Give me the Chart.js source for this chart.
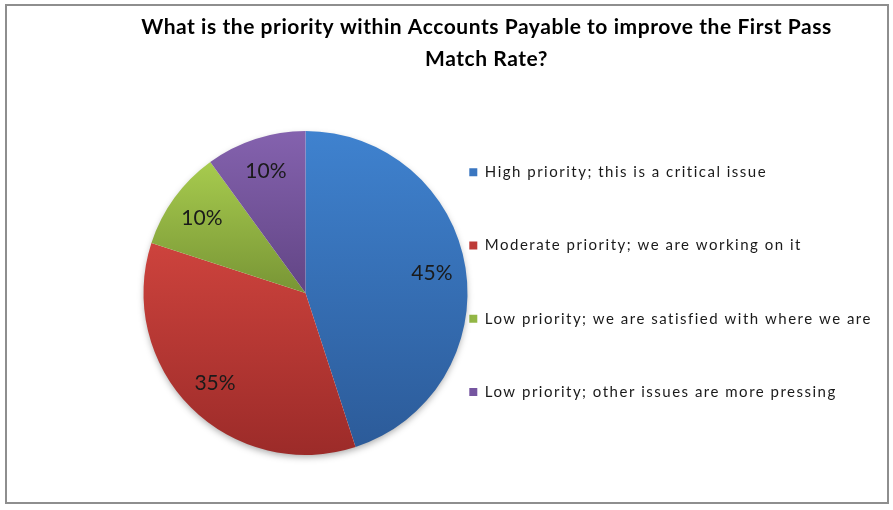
<!DOCTYPE html>
<html>
<head>
<meta charset="utf-8">
<script src="https://cdn.jsdelivr.net/npm/chart.js@4.4.0/dist/chart.umd.min.js"></script>
<style>
  html, body { margin: 0; padding: 0; background: #ffffff; }
  #wrap { position: relative; width: 893px; height: 510px; }
  #frame { position: absolute; left: 5px; top: 4px; width: 884px; height: 500px; border: 2px solid #8e8e8e; box-sizing: border-box; pointer-events: none; }
</style>
</head>
<body>
<div id="wrap"><canvas id="c"></canvas><div id="frame"></div></div>
<script>
const titleLines = ['What is the priority within Accounts Payable to improve the First Pass', 'Match Rate?'];
const categories = [
  'High priority; this is a critical issue',
  'Moderate priority; we are working on it',
  'Low priority; we are satisfied with where we are',
  'Low priority; other issues are more pressing'
];
const values = [45, 35, 10, 10];

const baseColors  = ['#3A76C0', '#BE3B37', '#93B746', '#7555A0'];
const lightColors = ['#3F82CF', '#CD433D', '#A7CB4E', '#8462AE'];
const darkColors  = ['#2C5B99', '#9C2B29', '#789535', '#624585'];

const LEGEND_WIDTH = 464.9;
const LEFT_GAP = 102.9;

function sliceGradient(ctx) {
  const chart = ctx.chart;
  const area = chart.chartArea;
  const i = ctx.dataIndex;
  if (!area || i === undefined) return baseColors[i] || baseColors[0];
  const meta = chart.getDatasetMeta(ctx.datasetIndex);
  const r = meta.controller.outerRadius || Math.min(area.width, area.height) / 2;
  const cy = (area.top + area.bottom) / 2;
  const data = ctx.dataset.data;
  const total = data.reduce((a, b) => a + b, 0);
  let before = 0;
  for (let k = 0; k < i; k++) before += data[k];
  const a0 = -Math.PI / 2 + before / total * 2 * Math.PI;
  const a1 = a0 + data[i] / total * 2 * Math.PI;
  const ys = [cy, cy + r * Math.sin(a0), cy + r * Math.sin(a1)];
  [-Math.PI / 2, Math.PI / 2, 3 * Math.PI / 2].forEach(t => { if (t >= a0 && t <= a1) ys.push(cy + r * Math.sin(t)); });
  const y0 = Math.min(...ys), y1 = Math.max(...ys);
  const g = chart.ctx.createLinearGradient(0, y0, 0, y1);
  g.addColorStop(0, lightColors[i]);
  g.addColorStop(1, darkColors[i]);
  return g;
}

// empty layout box on the left, so the pie sits left of the centred title
const leftGap = {
  id: 'leftGap',
  beforeInit(chart) {
    const box = {
      position: 'left', weight: 0, fullSize: false, options: {},
      left: 0, top: 0, right: 0, bottom: 0, width: 0, height: 0,
      isHorizontal() { return false; },
      getPadding() { return { top: 0, left: 0, right: 0, bottom: 0 }; },
      update(maxWidth, maxHeight) { this.width = LEFT_GAP; this.height = maxHeight; },
      draw() {}
    };
    Chart.layouts.addBox(chart, box);
  }
};

// looser letter spacing for legend and title text (as in the original rendering)
const textSpacing = {
  id: 'textSpacing',
  beforeInit(chart) {
    const withSpacing = (obj, name, px, after) => {
      const orig = obj[name];
      obj[name] = function (...args) {
        const c = this.ctx;
        const prev = c.letterSpacing;
        c.letterSpacing = px;
        try {
          const r = orig.apply(this, args);
          if (after) after.call(this);
          return r;
        } finally {
          c.letterSpacing = prev === undefined ? '0px' : prev;
        }
      };
    };
    if (chart.legend) {
      withSpacing(chart.legend, 'fit', '1.5px', function () { this.width = LEGEND_WIDTH; });
      withSpacing(chart.legend, 'draw', '1.5px');
    }
    if (chart.titleBlock) withSpacing(chart.titleBlock, 'draw', '0.55px');
  }
};

const pieShadow = {
  id: 'pieShadow',
  beforeDatasetsDraw(chart) {
    const arc = chart.getDatasetMeta(0).data[0];
    if (!arc) return;
    const { x, y, outerRadius } = arc.getProps(['x', 'y', 'outerRadius'], true);
    const c = chart.ctx;
    c.save();
    c.shadowColor = 'rgba(0,0,0,0.35)';
    c.shadowBlur = 7;
    c.shadowOffsetY = 3;
    c.fillStyle = '#ffffff';
    c.beginPath();
    c.arc(x, y, outerRadius - 1, 0, Math.PI * 2);
    c.fill();
    c.restore();
  }
};

const pctLabels = {
  id: 'pctLabels',
  afterDatasetsDraw(chart) {
    const meta = chart.getDatasetMeta(0);
    const data = chart.data.datasets[0].data;
    const total = data.reduce((a, b) => a + b, 0);
    const c = chart.ctx;
    c.save();
    c.font = '21px Lato';
    c.fillStyle = '#1a1a1a';
    c.textAlign = 'center';
    c.textBaseline = 'middle';
    meta.data.forEach((arc, i) => {
      const p = arc.getProps(['x', 'y', 'startAngle', 'endAngle', 'outerRadius'], true);
      const mid = (p.startAngle + p.endAngle) / 2;
      const d = p.outerRadius * 0.79;
      c.fillText(Math.round(data[i] / total * 100) + '%', p.x + Math.cos(mid) * d, p.y + Math.sin(mid) * d);
    });
    c.restore();
  }
};

const baseLegendLabels = (Chart.overrides.pie || Chart.overrides.doughnut).plugins.legend.labels.generateLabels;

new Chart(document.getElementById('c'), {
  type: 'pie',
  data: {
    labels: categories,
    datasets: [{
      data: values,
      backgroundColor: sliceGradient,
      borderWidth: 0,
      radius: 162,
      clip: false
    }]
  },
  options: {
    responsive: true,
    maintainAspectRatio: false,
    animation: false,
    events: [],
    layout: { padding: { left: 97, right: 17, top: 0, bottom: 30.6 } },
    plugins: {
      title: {
        display: true,
        text: titleLines,
        color: '#000000',
        font: { family: 'Lato', size: 21, weight: 'bold', lineHeight: 32 / 21 },
        padding: { top: 11, bottom: 31.6 }
      },
      legend: {
        position: 'right',
        align: 'start',
        fullSize: false,
        maxWidth: LEGEND_WIDTH,
        labels: {
          boxWidth: 8,
          boxHeight: 8,
          padding: 58.2,
          color: '#1a1a1a',
          font: { family: 'Lato', size: 15 },
          generateLabels(chart) {
            const items = baseLegendLabels(chart);
            items.forEach((it, i) => { it.fillStyle = baseColors[i]; it.strokeStyle = baseColors[i]; it.lineWidth = 0; });
            return items;
          }
        }
      },
      tooltip: { enabled: false }
    }
  },
  plugins: [leftGap, textSpacing, pieShadow, pctLabels]
});
</script>
</body>
</html>
